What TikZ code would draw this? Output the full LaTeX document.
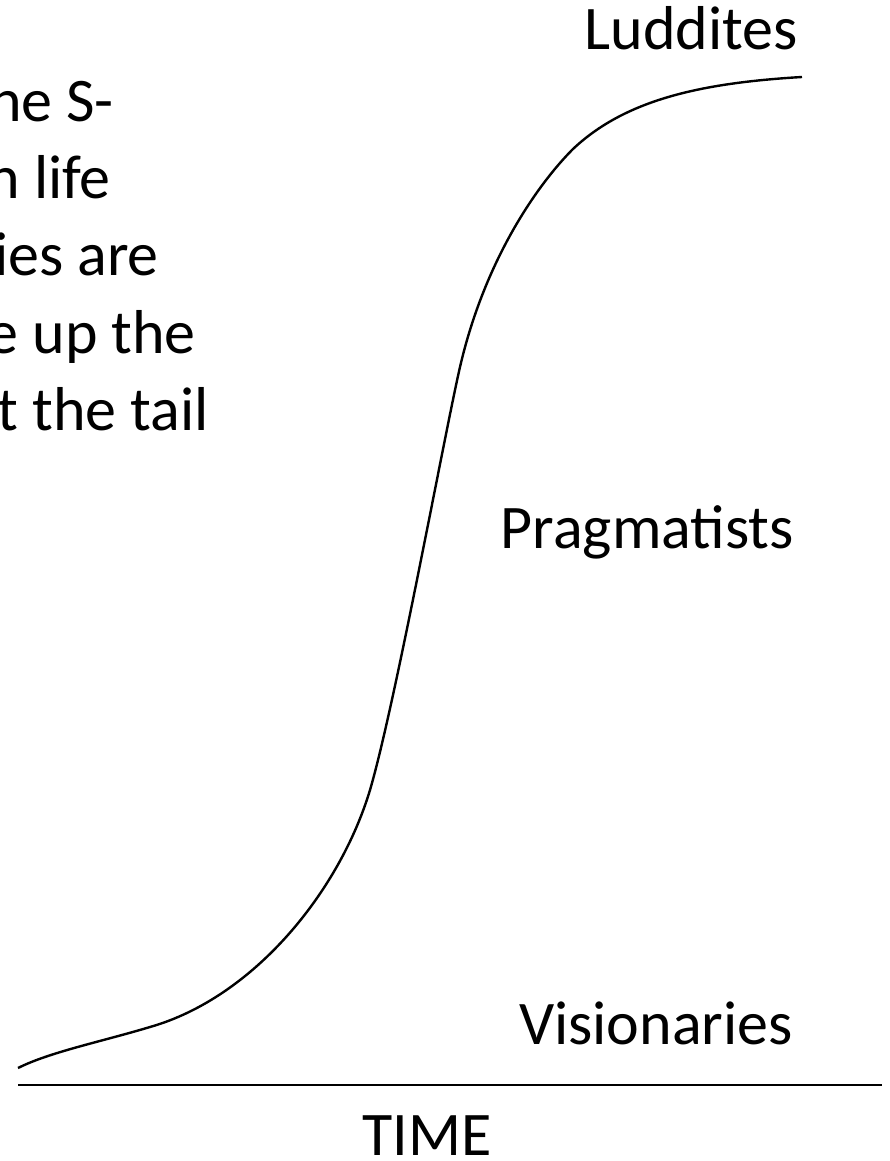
\documentclass[tikz,border=0pt]{standalone}
\usepackage{fontspec}
\setmainfont{Carlito}
\usepackage{tikz}
\usetikzlibrary{positioning}

\begin{document}
\begin{tikzpicture}[x=1pt,y=-1pt,font=\fontsize{62}{77}\selectfont]

\tikzset{
lbl/.style={
    anchor=base east,
    inner sep=0pt
},
axisline/.style={line width=2.8pt},
scurve/.style={line width=2.4pt,line join=round}
}

\useasboundingbox (0,0) rectangle (890,1161);

% clipped note on the left
\node[lbl] (note1) at (114,122) {ne S-};
\node[lbl] (note2) at (111,198) {n life};
\node[lbl] (note3) at (159,275) {ies are};
\node[lbl] (note4) at (196,353) {e up the};
\node[lbl] (note5) at (209,430) {t the tail};

% adopter groups
\node[lbl] (ludd) at (798,50) {Luddites};
\node[lbl] (prag) at (794,548) {Pragmatists};
\node[lbl] (vis) at (793,1044) {Visionaries};

% time axis
\coordinate (t0) at (18,1085);
\coordinate (t1) at (882,1085);
\draw[axisline] (t0) -- (t1);
\node[anchor=base,inner sep=0pt] (time) at (427,1155) {TIME};

% the S-curve
\coordinate (s0) at (18,1068);
\coordinate (s1) at (150,1027);
\coordinate (s2) at (370,790);
\coordinate (s3) at (460,367);
\coordinate (s4) at (573,149);
\coordinate (s5) at (802,77);
\draw[scurve] (s0) .. controls (50,1052) and (100,1042) .. (s1)
    .. controls (255,997) and (340,890) .. (s2)
    .. controls (395,705) and (445,432) .. (s3)
    .. controls (485,259) and (538,184) .. (s4)
    .. controls (625,100) and (700,83) .. (s5);

\end{tikzpicture}
\end{document}
